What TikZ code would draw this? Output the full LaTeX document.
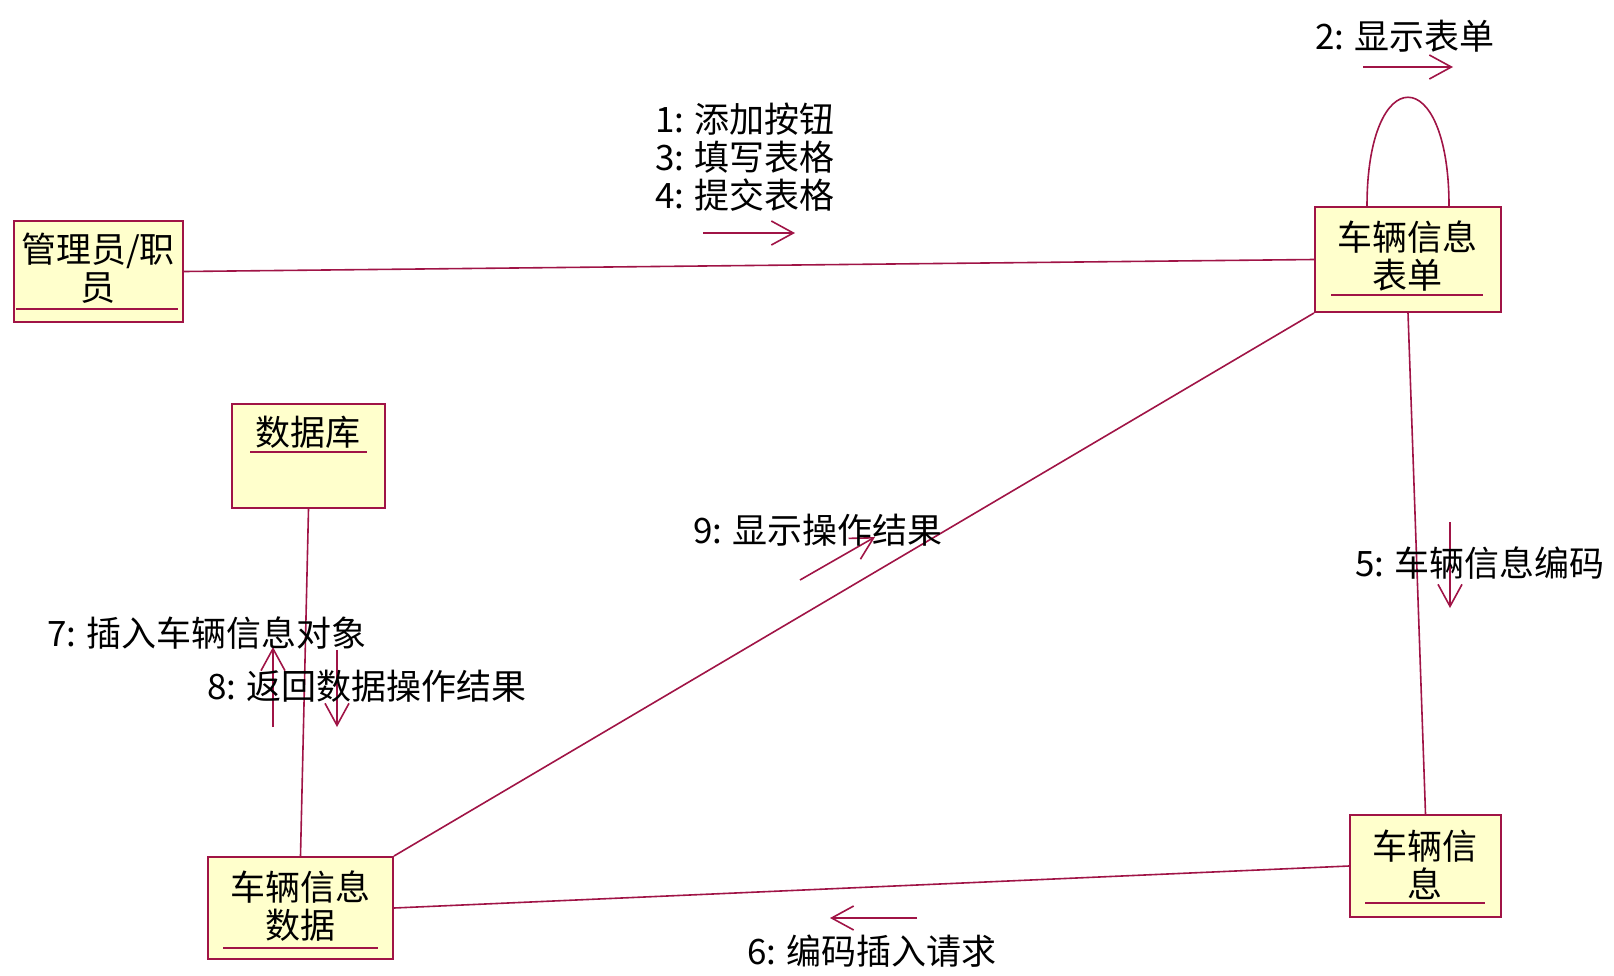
\documentclass[tikz,border=0pt]{standalone}
\usepackage{fontspec}
\setmainfont{Noto Sans CJK SC}
\usetikzlibrary{arrows.meta}
\definecolor{rose}{RGB}{160,20,70}
\definecolor{boxfill}{RGB}{255,255,204}
\begin{document}
\begin{tikzpicture}[x=1pt,y=-1pt,
  objbox/.style={draw=rose, line width=2pt, fill=boxfill, inner sep=0pt},
  lbl/.style={inner sep=0pt, font=\fontsize{35}{38}\selectfont, text=black},
  uline/.style={draw=rose, line width=1.5pt},
  conn/.style={draw=rose, line width=1.6pt},
  msg/.style={draw=rose, line width=1.6pt, -{Straight Barb[length=22pt,width=24pt]}}]
\useasboundingbox (0,0) rectangle (1614,975);
% object boxes
\node[objbox, minimum width=169pt, minimum height=101pt] (admin) at (98.5,271.5) {};
\node[objbox, minimum width=186pt, minimum height=105pt] (form) at (1408,259.5) {};
\node[objbox, minimum width=153pt, minimum height=104pt] (db) at (308.5,456) {};
\node[objbox, minimum width=185pt, minimum height=102pt] (data) at (300.5,908) {};
\node[objbox, minimum width=151pt, minimum height=102pt] (info) at (1425.5,866) {};
% object names
\node[lbl, align=center] (adminT) at (98,268) {管理员/职\\员};
\node[lbl, align=center] (formT) at (1407,256.5) {车辆信息\\表单};
\node[lbl] (dbT) at (308,432) {数据库};
\node[lbl, align=center] (dataT) at (300,906.5) {车辆信息\\数据};
\node[lbl, align=center] (infoT) at (1425,864.5) {车辆信\\息};
% underlines
\draw[uline] (16,309) -- (178,309);
\draw[uline] (1331,295) -- (1483,295);
\draw[uline] (250,452) -- (367,452);
\draw[uline] (223,948) -- (378,948);
\draw[uline] (1365,903) -- (1485,903);
% links
\draw[conn] (admin.east) -- (form.west);
\draw[conn] (form.south) -- (info.north);
\draw[conn] (form.south west) -- (data.north east);
\draw[conn] (db.south) -- (data.north);
\draw[conn] (data.east) -- (info.west);
\draw[conn] ([xshift=-41pt]form.north) .. controls +(0,-145) and +(0,-145) .. ([xshift=41pt]form.north);
% message arrows
\coordinate (m1a) at (703,233); \coordinate (m1b) at (795,233);
\coordinate (m2a) at (1363,67); \coordinate (m2b) at (1453,67);
\coordinate (m9a) at (800,580); \coordinate (m9b) at (875,537);
\coordinate (m5a) at (1450,522); \coordinate (m5b) at (1450,608);
\coordinate (m6a) at (917,918); \coordinate (m6b) at (830,918);
\coordinate (m7a) at (273,727); \coordinate (m7b) at (273,647);
\coordinate (m8a) at (337,650); \coordinate (m8b) at (337,727);
\draw[msg] (m1a) -- (m1b);
\draw[msg] (m2a) -- (m2b);
\draw[msg] (m9a) -- (m9b);
\draw[msg] (m5a) -- (m5b);
\draw[msg] (m6a) -- (m6b);
\draw[msg] (m7a) -- (m7b);
\draw[msg] (m8a) -- (m8b);
% message labels
\node[lbl, anchor=west, align=left] (l1) at (655,157) {1: 添加按钮\\3: 填写表格\\4: 提交表格};
\node[lbl, anchor=west] (l2) at (1315,36) {2: 显示表单};
\node[lbl, anchor=west] (l9) at (693,530) {9: 显示操作结果};
\node[lbl, anchor=west] (l5) at (1355,563) {5: 车辆信息编码};
\node[lbl, anchor=west] (l6) at (747,951) {6: 编码插入请求};
\node[lbl, anchor=west] (l7) at (47,633) {7: 插入车辆信息对象};
\node[lbl, anchor=west] (l8) at (207,686) {8: 返回数据操作结果};
\end{tikzpicture}
\end{document}
